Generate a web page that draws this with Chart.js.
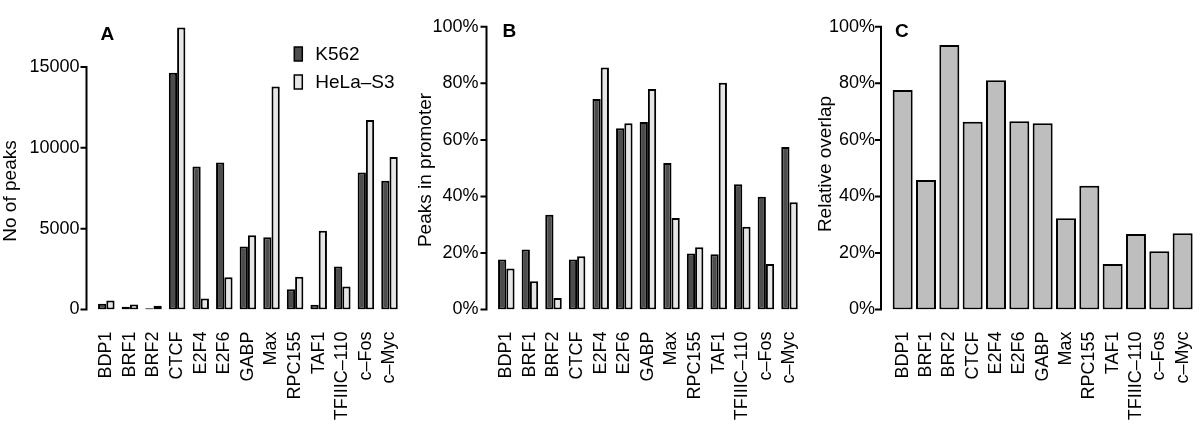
<!DOCTYPE html>
<html>
<head>
<meta charset="utf-8">
<script src="https://cdn.jsdelivr.net/npm/chart.js@4.4.1/dist/chart.umd.min.js"></script>
<style>
html, body { margin: 0; padding: 0; background: #fff; }
#wrap { position: relative; width: 1200px; height: 444px; overflow: hidden; }
canvas { position: absolute; top: 0; }
</style>
</head>
<body>
<div id="wrap">
  <canvas id="chartA" width="402" height="444" style="left:0px"></canvas>
  <canvas id="chartB" width="402" height="444" style="left:400px"></canvas>
  <canvas id="chartC" width="400" height="444" style="left:800px"></canvas>
</div>
<script>
// factors on the x axis (same for all three panels)
const factors = ['BDP1', 'BRF1', 'BRF2', 'CTCF', 'E2F4', 'E2F6', 'GABP', 'Max', 'RPC155', 'TAF1', 'TFIIIC–110', 'c–Fos', 'c–Myc'];

// A: number of peaks
const peaksK562 = [350, 170, 70, 14650, 8840, 9100, 3900, 4470, 1260, 300, 2660, 8480, 7970];
const peaksHeLa = [560, 310, 230, 17450, 680, 1990, 4600, 13800, 2030, 4870, 1430, 11720, 9430];
const peakTicks = [0, 5000, 10000, 15000];

// B: % of peaks in promoter
const promoterK562 = [17.7, 21.2, 33.5, 17.7, 74.5, 64.1, 66.3, 51.8, 19.8, 19.5, 44.3, 39.9, 57.5];
const promoterHeLa = [14.5, 10.0, 4.1, 18.8, 85.6, 65.9, 78.0, 32.4, 22.0, 80.2, 29.3, 16.1, 37.9];

// C: relative overlap between cell lines (%)
const overlap = [77.6, 45.8, 93.6, 66.4, 81.1, 66.6, 65.9, 32.3, 43.8, 16.1, 26.7, 20.6, 27.0];

const cellLines = ['K562', 'HeLa–S3'];
const darkFill = '#4d4d4d';
const lightFill = '#e6e6e6';
const greyFill = '#bebebe';

Chart.defaults.font.family = '"Liberation Sans", Arial, Helvetica, sans-serif';
Chart.defaults.font.size = 18;
Chart.defaults.color = '#000';

// R-style detached y axis, rotated y title, panel letter and boxed legend
const rStyle = {
  id: 'rStyle',
  afterDraw(chart, args, opts) {
    const ctx = chart.ctx;
    const area = chart.chartArea;
    const y = chart.scales.y;
    const ax = area.left - opts.gap;
    const pix = y.ticks.map(t => y.getPixelForValue(t.value));

    ctx.save();
    ctx.strokeStyle = '#000';
    ctx.lineWidth = 2;
    ctx.beginPath();
    ctx.moveTo(ax, pix[0] + 1);
    ctx.lineTo(ax, pix[pix.length - 1] - 1);
    pix.forEach(p => {
      ctx.moveTo(ax, p);
      ctx.lineTo(ax - 6, p);
    });
    ctx.stroke();

    ctx.fillStyle = '#000';
    ctx.font = '19px "Liberation Sans", Arial, sans-serif';
    ctx.textAlign = 'center';
    ctx.textBaseline = 'middle';
    ctx.save();
    ctx.translate(opts.titleX, opts.titleY);
    ctx.rotate(-Math.PI / 2);
    ctx.fillText(opts.title, 0, 0);
    ctx.restore();

    ctx.font = 'bold 19px "Liberation Sans", Arial, sans-serif';
    ctx.textAlign = 'left';
    ctx.textBaseline = 'alphabetic';
    ctx.fillText(opts.letter, area.left + opts.letterDx, opts.letterY);

    if (opts.legend) {
      ctx.font = '19px "Liberation Sans", Arial, sans-serif';
      ctx.textBaseline = 'middle';
      ctx.lineWidth = 1.5;
      chart.data.datasets.forEach((ds, i) => {
        const bx = area.right - 107;
        const by = 47 + i * 28;
        ctx.fillStyle = ds.backgroundColor;
        ctx.fillRect(bx, by, 8, 14);
        ctx.strokeRect(bx, by, 8, 14);
        ctx.fillStyle = '#000';
        ctx.fillText(ds.label, bx + 21, by + 7.5);
      });
    }
    ctx.restore();
  }
};

function makeChart(id, datasets, yOpts, style, sizes) {
  return new Chart(document.getElementById(id), {
    type: 'bar',
    data: { labels: factors, datasets: datasets },
    plugins: [rStyle],
    options: {
      responsive: false,
      animation: false,
      layout: { padding: { top: 20.7, right: sizes.right, left: 0, bottom: 0 } },
      plugins: {
        legend: { display: false },
        tooltip: { enabled: false },
        rStyle: style
      },
      scales: {
        x: {
          offset: true,
          grid: { display: false, drawTicks: false },
          border: { display: false },
          ticks: { minRotation: 90, maxRotation: 90, autoSkip: false, padding: 22, font: { size: 18 } },
          afterFit: s => {
            s.height = 134.5;
            s.paddingLeft = 0;
            s.paddingRight = 0;
          }
        },
        y: Object.assign({
          min: 0,
          grid: { display: false, drawTicks: false },
          border: { display: false },
          afterFit: s => { s.width = sizes.left; }
        }, yOpts)
      }
    }
  });
}

const barStyle = { borderColor: '#000', borderWidth: 2, borderSkipped: false, categoryPercentage: 0.7, barPercentage: 1 };

makeChart('chartA', [
  Object.assign({ label: cellLines[0], data: peaksK562, backgroundColor: darkFill }, barStyle),
  Object.assign({ label: cellLines[1], data: peaksHeLa, backgroundColor: lightFill }, barStyle)
], {
  max: 17550,
  afterBuildTicks: s => { s.ticks = peakTicks.map(v => ({ value: v })); },
  ticks: { padding: 15, font: { size: 18 }, callback: v => String(v) }
}, { gap: 8, title: 'No of peaks', titleX: 11, titleY: 191, letter: 'A', letterDx: 6, letterY: 40, legend: true },
{ left: 94.5, right: 0.7 });

makeChart('chartB', [
  Object.assign({ label: cellLines[0], data: promoterK562, backgroundColor: darkFill }, barStyle),
  Object.assign({ label: cellLines[1], data: promoterHeLa, backgroundColor: lightFill }, barStyle)
], {
  max: 100,
  ticks: { stepSize: 20, padding: 16, font: { size: 18 }, callback: v => v + '%' }
}, { gap: 8, title: 'Peaks in promoter', titleX: 26, titleY: 170, letter: 'B', letterDx: 8, letterY: 37, legend: false },
{ left: 94.5, right: 0.7 });

makeChart('chartC', [
  { label: 'Relative overlap', data: overlap, backgroundColor: greyFill, borderColor: '#000', borderWidth: 2,
    borderSkipped: false, categoryPercentage: 1, barPercentage: 0.857 }
], {
  max: 100,
  ticks: { stepSize: 20, padding: 16, font: { size: 18 }, callback: v => v + '%' }
}, { gap: 10, title: 'Relative overlap', titleX: 26, titleY: 164, letter: 'C', letterDx: 4, letterY: 37, legend: false },
{ left: 91, right: 5.7 });
</script>
</body>
</html>
